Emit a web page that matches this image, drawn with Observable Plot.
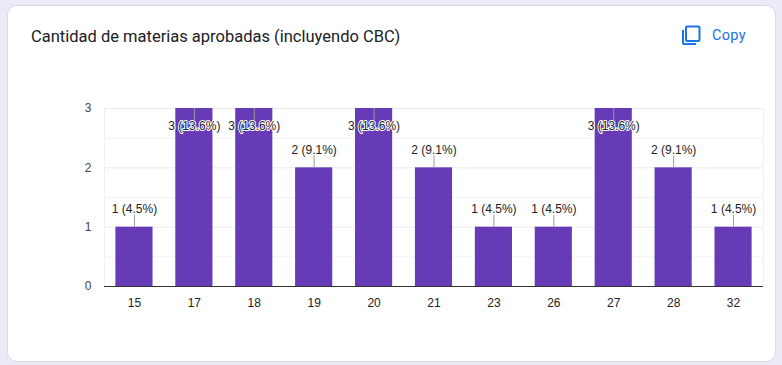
<!DOCTYPE html>
<html><head><meta charset="utf-8">
<script src="https://cdn.jsdelivr.net/npm/d3@7"></script>
<script src="https://cdn.jsdelivr.net/npm/@observablehq/plot@0.6"></script>
<style>
html,body{margin:0;padding:0;background:#ede9f7;width:782px;height:365px;overflow:hidden}
#card{position:absolute;left:6.5px;top:4.5px;width:769px;height:357px;background:#fff;border:1px solid #dcdae6;border-radius:10px;box-sizing:border-box}
#title{position:absolute;left:31px;top:26px;font:400 16.5px/22px Roboto,sans-serif;color:#202124;white-space:nowrap}
#copy{position:absolute;left:712px;top:26px;font:400 14.5px/20px Roboto,sans-serif;color:#1a73e8;letter-spacing:.3px}
#icon{position:absolute;left:680px;top:24px}
#chart{position:absolute;left:0;top:0}
</style></head><body>
<div id="card"></div>
<div id="chart"></div>
<div id="title">Cantidad de materias aprobadas (incluyendo CBC)</div>
<svg id="icon" width="22" height="22" viewBox="0 0 22 22"><path d="M7 2.5h11.5a1 1 0 0 1 1 1V16a1 1 0 0 1-1 1H7a1 1 0 0 1-1-1V3.500a1 1 0 0 1 1-1z" fill="none" stroke="#1a73e8" stroke-width="2"/><path d="M3 6v13a1 1 0 0 0 1 1h12" fill="none" stroke="#1a73e8" stroke-width="2"/></svg>
<div id="copy">Copy</div>
<script>
const categories = ["15","17","18","19","20","21","23","26","27","28","32"];
const counts = [1,3,3,2,3,2,1,1,3,2,1];
const percents = ["4.5","13.6","13.6","9.1","13.6","9.1","4.5","4.5","13.6","9.1","4.5"];
const data = categories.map((c,i)=>({c, v:counts[i], label:`${counts[i]} (${percents[i]}%)`}));
const yTicks = [0,1,2,3];
const yMinor = [0.5,1.5,2.5];
const below = d => d.v === 3, above = d => d.v < 3;
const font = "Arial, 'Liberation Sans', sans-serif";
const plot = Plot.plot({
  width:782, height:365,
  marginLeft:104, marginRight:19, marginTop:108, marginBottom:79,
  style:{background:"transparent", fontFamily:font, fontSize:"12px", color:"#222"},
  x:{domain:categories, paddingInner:0.38, paddingOuter:0.19, align:0.5, round:false, label:null},
  y:{domain:[0,3], label:null},
  marks:[
    Plot.frame({stroke:"#f1f1f1", strokeWidth:1}),
    Plot.ruleY(yMinor,{stroke:"#f3f3f3"}),
    Plot.ruleY([1,2,3],{stroke:"#ececec"}),
    Plot.axisX({tickSize:0, tickPadding:12, fontSize:12, fill:"#222", label:null}),
    Plot.axisY(yTicks,{tickSize:0, tickPadding:13, fontSize:12, fill:"#444", label:null, tickFormat:"d"}),
    Plot.barY(data,{x:"c", y:"v", fill:"#673ab7"}),
    Plot.ruleY([0],{stroke:"#333", strokeWidth:1}),
    Plot.ruleX(data.filter(above),{x:"c", y1:"v", y2:"v", insetTop:-12, stroke:"#999"}),
    Plot.ruleX(data.filter(below),{x:"c", y1:"v", y2:"v", insetBottom:-12, stroke:"#999"}),
    Plot.text(data.filter(above),{x:"c", y:"v", text:"label", dy:-18, fill:"#222", stroke:"#fff", strokeWidth:2, fontSize:12}),
    Plot.text(data.filter(below),{x:"c", y:"v", text:"label", dy:18, fill:"#222", stroke:"#fff", strokeWidth:2, fontSize:12})
  ]
});
document.getElementById("chart").appendChild(plot);
</script>
</body></html>
